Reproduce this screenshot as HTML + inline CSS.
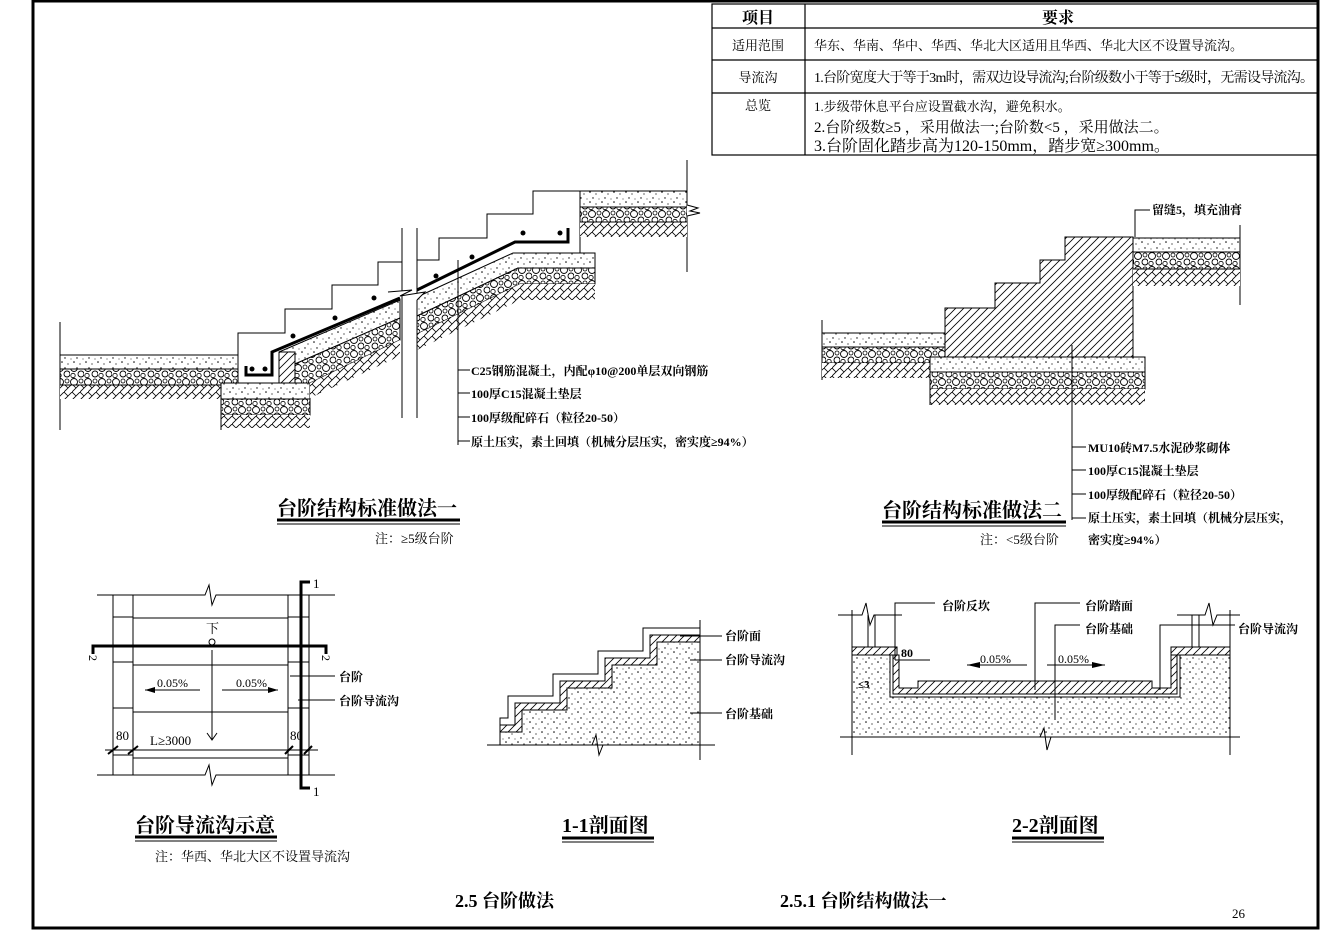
<!DOCTYPE html>
<html><head><meta charset="utf-8">
<style>
html,body{margin:0;padding:0;background:#fff;}
svg{display:block;}
text{font-family:"Liberation Serif","Noto Serif CJK SC","Noto Sans CJK SC",serif;fill:#000;}
.b{font-weight:bold;}
</style></head>
<body>
<svg width="1330" height="930" viewBox="0 0 1330 930" xmlns="http://www.w3.org/2000/svg">
<defs>
<pattern id="dots" width="12" height="10" patternUnits="userSpaceOnUse">
<rect width="12" height="10" fill="#fff"/>
<circle cx="2" cy="2" r="0.8" fill="#000"/><circle cx="8" cy="4" r="0.6" fill="#000"/><circle cx="5" cy="8" r="0.7" fill="#000"/><circle cx="11" cy="9" r="0.5" fill="#000"/>
</pattern>
<pattern id="gravel" width="14" height="14" patternUnits="userSpaceOnUse">
<rect width="14" height="14" fill="#fff"/>
<circle cx="4" cy="4" r="3.5" fill="none" stroke="#000" stroke-width="0.9"/><circle cx="11" cy="10" r="3" fill="none" stroke="#000" stroke-width="0.9"/><circle cx="3" cy="11.5" r="2.2" fill="none" stroke="#000" stroke-width="0.8"/><circle cx="11" cy="3" r="2" fill="none" stroke="#000" stroke-width="0.8"/>
</pattern>
<pattern id="earth" width="8" height="8" patternUnits="userSpaceOnUse">
<rect width="8" height="8" fill="#fff"/>
<path d="M0 8L8 0M0 0L4 4" stroke="#000" stroke-width="0.8"/>
</pattern>
<pattern id="hatch" width="8" height="8" patternUnits="userSpaceOnUse">
<rect width="8" height="8" fill="#fff"/>
<path d="M-2 2L2 -2M0 8L8 0M6 10L10 6" stroke="#000" stroke-width="0.8"/>
</pattern>
</defs>

<!-- frame -->
<rect x="33" y="1" width="1285" height="927" fill="none" stroke="#000" stroke-width="3"/>

<!-- table -->
<g stroke="#000" fill="none" stroke-width="1.2">
<rect x="712" y="4" width="606" height="151"/>
<line x1="712" y1="28" x2="1318" y2="28"/>
<line x1="712" y1="60" x2="1318" y2="60"/>
<line x1="712" y1="93" x2="1318" y2="93"/>
<line x1="805" y1="4" x2="805" y2="155"/>
</g>
<text x="758" y="23" font-size="16" class="b" text-anchor="middle" font-family="Liberation Sans,Noto Sans CJK SC,sans-serif">项目</text>
<text x="1058" y="23" font-size="16" class="b" text-anchor="middle">要求</text>
<text x="758" y="50" font-size="13" text-anchor="middle">适用范围</text>
<text x="814" y="50" font-size="13">华东、华南、华中、华西、华北大区适用且华西、华北大区不设置导流沟。</text>
<text x="758" y="82" font-size="13" text-anchor="middle">导流沟</text>
<text x="814" y="82" font-size="14" textLength="500">1.台阶宽度大于等于3m时，需双边设导流沟;台阶级数小于等于5级时，无需设导流沟。</text>
<text x="758" y="110" font-size="13" text-anchor="middle">总览</text>
<text x="814" y="111" font-size="13">1.步级带休息平台应设置截水沟，避免积水。</text>
<text x="814" y="132" font-size="15">2.台阶级数≥5 ，采用做法一;台阶数&lt;5 ，采用做法二。</text>
<text x="814" y="151" font-size="16">3.台阶固化踏步高为120-150mm，踏步宽≥300mm。</text>

<!-- ===== Drawing 1 ===== -->
<g stroke="#000" stroke-width="1">
<line x1="60" y1="322" x2="60" y2="430"/>
<rect x="60" y="355" width="178" height="14" fill="url(#dots)"/>
<rect x="60" y="369" width="178" height="16" fill="url(#gravel)"/>
<rect x="60" y="385" width="161" height="14" fill="url(#earth)" stroke="none"/>
<line x1="60" y1="385" x2="221" y2="385"/>
<rect x="221" y="383" width="89" height="16" fill="url(#dots)"/>
<rect x="221" y="399" width="89" height="16" fill="url(#gravel)"/>
<rect x="221" y="415" width="89" height="13" fill="url(#earth)" stroke="none"/>
<line x1="221" y1="383" x2="221" y2="430"/>
<!-- lower slab -->
<polygon points="279,352 400,300 400,318 295,364 295,352" fill="url(#dots)"/>
<polygon points="295,364 400,318 400,340 310,383 295,383" fill="url(#gravel)"/>
<polygon points="310,383 400,340 400,356 310,398" fill="url(#earth)" stroke="none"/>
<rect x="279" y="352" width="16" height="31" fill="url(#hatch)"/>
<!-- upper slab -->
<polygon points="417,297 513,253 595,253 595,268 518,268 417,316" fill="url(#dots)"/>
<polygon points="417,316 518,268 595,268 595,284 520,284 417,334" fill="url(#gravel)"/>
<polygon points="417,334 520,284 595,284 595,300 520,300 417,350" fill="url(#earth)" stroke="none"/>
<!-- top landing -->
<line x1="687" y1="160" x2="687" y2="272"/>
<line x1="580" y1="191" x2="580" y2="253"/>
<rect x="580" y="191" width="107" height="16" fill="url(#dots)"/>
<rect x="580" y="207" width="107" height="15" fill="url(#gravel)"/>
<rect x="580" y="222" width="107" height="15" fill="url(#earth)" stroke="none"/>
<line x1="580" y1="222" x2="687" y2="222"/>
<polyline fill="#fff" points="687,205 698,208 690,211 700,213 687,216"/>
<!-- stairs outline -->
<polyline fill="none" points="238,380 238,333 285,333 285,309 332,309 332,285 378,285 378,262 402,262"/>
<polyline fill="none" points="417,260 439,260 439,238 487,238 487,214 533,214 533,191 580,191"/>
<line x1="402" y1="228" x2="402" y2="418"/>
<line x1="417" y1="228" x2="417" y2="418"/>
<polyline fill="#fff" points="388,292 412,290 400,296 425,292 417,300"/>
<!-- rebar -->
<polyline fill="none" stroke-width="3" points="246,366 246,375 272,375 272,352 400,298"/>
<polyline fill="none" stroke-width="3" points="417,290 515,242 568,242 568,228"/>
</g>
<g fill="#000">
<circle cx="252" cy="369" r="2.5"/><circle cx="265" cy="369" r="2.5"/><circle cx="293" cy="336" r="2.5"/><circle cx="335" cy="318" r="2.5"/><circle cx="374" cy="298" r="2.5"/><circle cx="436" cy="276" r="2.5"/><circle cx="472" cy="257" r="2.5"/><circle cx="523" cy="233" r="2.5"/><circle cx="560" cy="233" r="2.5"/>
</g>
<line x1="458" y1="260" x2="458" y2="445" stroke="#000"/>
<g stroke="#000"><line x1="458" y1="370" x2="470" y2="370"/><line x1="458" y1="393" x2="470" y2="393"/><line x1="458" y1="417" x2="470" y2="417"/><line x1="458" y1="441" x2="470" y2="441"/></g>
<g font-size="12" class="b">
<text x="471" y="375">C25钢筋混凝土，内配φ10@200单层双向钢筋</text>
<text x="471" y="398">100厚C15混凝土垫层</text>
<text x="471" y="422">100厚级配碎石（粒径20-50）</text>
<text x="471" y="446">原土压实，素土回填（机械分层压实，密实度≥94%）</text>
</g>
<text x="277" y="515" font-size="20" class="b">台阶结构标准做法一</text>
<line x1="277" y1="520" x2="460" y2="520" stroke="#000" stroke-width="3"/>
<line x1="277" y1="524" x2="460" y2="524" stroke="#000" stroke-width="1"/>
<text x="375" y="543" font-size="13">注：≥5级台阶</text>

<!-- ===== Drawing 2 ===== -->
<g stroke="#000" stroke-width="1">
<line x1="822" y1="320" x2="822" y2="380"/>
<rect x="822" y="333" width="123" height="14" fill="url(#dots)"/>
<rect x="822" y="347" width="123" height="16" fill="url(#gravel)"/>
<rect x="822" y="363" width="110" height="15" fill="url(#earth)" stroke="none"/>
<rect x="930" y="357" width="215" height="15" fill="url(#dots)"/>
<rect x="930" y="372" width="215" height="17" fill="url(#gravel)"/>
<rect x="930" y="389" width="215" height="16" fill="url(#earth)" stroke="none"/>
<line x1="930" y1="357" x2="930" y2="405"/>
<polygon points="945,357 945,308 995,308 995,283 1040,283 1040,260 1065,260 1065,237 1133,237 1133,357" fill="url(#hatch)"/>
<line x1="1240" y1="225" x2="1240" y2="305"/>
<rect x="1133" y="238" width="107" height="14" fill="url(#dots)"/>
<rect x="1133" y="252" width="107" height="17" fill="url(#gravel)"/>
<rect x="1133" y="269" width="107" height="17" fill="url(#earth)" stroke="none"/>
<line x1="1133" y1="269" x2="1240" y2="269"/>
<polyline fill="none" points="1135,237 1135,210 1150,210"/>
<line x1="1072" y1="345" x2="1072" y2="520"/>
<line x1="1072" y1="447" x2="1086" y2="447"/><line x1="1072" y1="470" x2="1086" y2="470"/><line x1="1072" y1="494" x2="1086" y2="494"/><line x1="1072" y1="518" x2="1086" y2="518"/>
</g>
<g font-size="12" class="b">
<text x="1152" y="214">留缝5，填充油膏</text>
<text x="1088" y="452">MU10砖M7.5水泥砂浆砌体</text>
<text x="1088" y="475">100厚C15混凝土垫层</text>
<text x="1088" y="499">100厚级配碎石（粒径20-50）</text>
<text x="1088" y="522">原土压实，素土回填（机械分层压实，</text>
<text x="1088" y="544">密实度≥94%）</text>
</g>
<text x="882" y="517" font-size="20" class="b">台阶结构标准做法二</text>
<line x1="882" y1="522" x2="1066" y2="522" stroke="#000" stroke-width="3"/>
<line x1="882" y1="526" x2="1066" y2="526" stroke="#000" stroke-width="1"/>
<text x="980" y="544" font-size="13">注：&lt;5级台阶</text>

<!-- ===== Plan ===== -->
<g stroke="#000" stroke-width="1" fill="none">
<polyline points="97,595 205,595 209,585 212,605 216,595 335,595"/>
<polyline points="97,775 205,775 209,765 212,785 216,775 335,775"/>
<line x1="133" y1="618" x2="288" y2="618"/>
<line x1="133" y1="665" x2="288" y2="665"/>
<line x1="133" y1="712" x2="288" y2="712"/>
<line x1="133" y1="758" x2="288" y2="758"/>
<line x1="113" y1="617" x2="133" y2="617"/><line x1="113" y1="662" x2="133" y2="662"/><line x1="113" y1="708" x2="133" y2="708"/><line x1="113" y1="755" x2="133" y2="755"/>
<line x1="288" y1="617" x2="309" y2="617"/><line x1="288" y1="662" x2="309" y2="662"/><line x1="288" y1="708" x2="309" y2="708"/><line x1="288" y1="755" x2="309" y2="755"/>
<line x1="113" y1="595" x2="113" y2="775"/><line x1="133" y1="595" x2="133" y2="775"/>
<line x1="288" y1="595" x2="288" y2="775"/><line x1="309" y1="595" x2="309" y2="775"/>
<line x1="105" y1="750" x2="318" y2="750"/>
<line x1="212" y1="650" x2="212" y2="740"/>
<polyline points="207,733 212,740 217,733"/>
<circle cx="212" cy="642" r="3"/>
<line x1="290" y1="676" x2="335" y2="676"/><line x1="298" y1="700" x2="335" y2="700"/>
<line x1="145" y1="690" x2="200" y2="690"/><line x1="222" y1="690" x2="278" y2="690"/>
<line x1="108" y1="754" x2="118" y2="746" stroke-width="2"/><line x1="128" y1="754" x2="138" y2="746" stroke-width="2"/>
<line x1="285" y1="754" x2="293" y2="746" stroke-width="2"/><line x1="304" y1="754" x2="312" y2="746" stroke-width="2"/>
</g>
<polygon points="145,690 155,687 155,693" fill="#000"/><polygon points="278,690 268,687 268,693" fill="#000"/>
<polyline points="93,654 93,646 326,646 326,654" fill="none" stroke="#000" stroke-width="3"/>
<polyline points="310,582 301,582 301,788 310,788" fill="none" stroke="#000" stroke-width="3"/>
<g font-size="12">
<text x="313" y="588" font-size="13">1</text><text x="313" y="796" font-size="13">1</text>
<text x="88" y="664" font-size="12" transform="rotate(90 93 660)">2</text>
<text x="321" y="664" font-size="12" transform="rotate(90 326 660)">2</text>
<text x="206" y="633" font-size="13">下</text>
<text x="157" y="687">0.05%</text><text x="236" y="687">0.05%</text>
<text x="339" y="681" class="b">台阶</text><text x="339" y="705" class="b">台阶导流沟</text>
<text x="116" y="740" font-size="13">80</text><text x="150" y="745" font-size="13">L≥3000</text><text x="290" y="740" font-size="13">80</text>
</g>
<text x="135" y="832" font-size="20" class="b">台阶导流沟示意</text>
<line x1="135" y1="837" x2="277" y2="837" stroke="#000" stroke-width="3"/>
<line x1="135" y1="841" x2="277" y2="841" stroke="#000"/>
<text x="155" y="861" font-size="13">注：华西、华北大区不设置导流沟</text>

<!-- ===== 1-1 ===== -->
<g stroke="#000" stroke-width="1">
<polygon points="500,740 500,732 522,732 522,710 567,710 567,688 612,688 612,665 657,665 657,642 700,642 700,745 500,745" fill="url(#dots)"/>
<polygon points="500,732 500,725 515,725 515,703 560,703 560,681 605,681 605,658 650,658 650,635 700,635 700,642 657,642 657,665 612,665 612,688 567,688 567,710 522,710 522,732" fill="url(#hatch)"/>
<polyline fill="none" points="500,725 500,718 508,718 508,696 553,696 553,674 598,674 598,651 643,651 643,628 700,628"/>
<polyline fill="none" points="487,745 592,745 596,735 599,755 603,745 715,745"/>
<line x1="700" y1="620" x2="700" y2="760"/>
<line x1="680" y1="636" x2="722" y2="636"/><line x1="690" y1="660" x2="722" y2="660"/><line x1="690" y1="713" x2="722" y2="713"/>
</g>
<g font-size="12" class="b"><text x="725" y="640">台阶面</text><text x="725" y="664">台阶导流沟</text><text x="725" y="718">台阶基础</text></g>
<text x="562" y="832" font-size="20" class="b">1-1剖面图</text>
<line x1="562" y1="838" x2="654" y2="838" stroke="#000" stroke-width="3"/>
<line x1="562" y1="842" x2="654" y2="842" stroke="#000"/>

<!-- ===== 2-2 ===== -->
<g stroke="#000" stroke-width="1">
<polygon points="852,655 890,655 890,697 1180,697 1180,655 1230,655 1230,737 852,737" fill="url(#dots)"/>
<rect x="852" y="647" width="45" height="8" fill="url(#hatch)"/>
<rect x="1171" y="647" width="59" height="8" fill="url(#hatch)"/>
<polygon points="893,655 899,655 899,688 918,688 918,681 1152,681 1152,688 1171,688 1171,655 1177,655 1177,694 893,694" fill="url(#hatch)"/>
<polyline fill="none" points="838,615 862,615 866,603 870,625 874,615 902,615"/>
<polyline fill="none" points="1177,615 1205,615 1209,603 1213,625 1217,615 1240,615"/>
<line x1="852" y1="610" x2="852" y2="755"/><line x1="1230" y1="610" x2="1230" y2="755"/>
<line x1="868" y1="615" x2="868" y2="647"/><line x1="875" y1="615" x2="875" y2="647"/>
<line x1="1192" y1="615" x2="1192" y2="647"/><line x1="1199" y1="615" x2="1199" y2="647"/>
<polyline fill="none" points="840,737 1040,737 1044,728 1047,750 1051,737 1240,737"/>
<polyline fill="none" points="895,660 895,603 935,603"/>
<polyline fill="none" points="1035,690 1035,603 1080,603"/>
<polyline fill="none" points="1055,720 1055,625 1080,625"/>
<polyline fill="none" points="1160,690 1160,625 1235,625"/>
<line x1="967" y1="665" x2="1027" y2="665"/><line x1="1047" y1="665" x2="1105" y2="665"/>
<line x1="895" y1="660" x2="930" y2="660"/>
</g>
<polygon points="967,665 980,662 980,668" fill="#000"/><polygon points="1105,665 1092,662 1092,668" fill="#000"/>
<g font-size="12" class="b"><text x="942" y="610">台阶反坎</text><text x="1085" y="610">台阶踏面</text><text x="1085" y="633">台阶基础</text><text x="1238" y="633">台阶导流沟</text><text x="901" y="657">80</text><text x="858" y="688" font-size="11">≤3</text></g>
<g font-size="12"><text x="980" y="663">0.05%</text><text x="1058" y="663">0.05%</text></g>
<text x="1012" y="832" font-size="20" class="b">2-2剖面图</text>
<line x1="1012" y1="838" x2="1104" y2="838" stroke="#000" stroke-width="3"/>
<line x1="1012" y1="842" x2="1104" y2="842" stroke="#000"/>

<text x="455" y="907" font-size="18" class="b">2.5 台阶做法</text>
<text x="780" y="907" font-size="18" class="b">2.5.1 台阶结构做法一</text>
<text x="1232" y="918" font-size="13" font-family="Liberation Sans,sans-serif">26</text>
</svg>
</body></html>
